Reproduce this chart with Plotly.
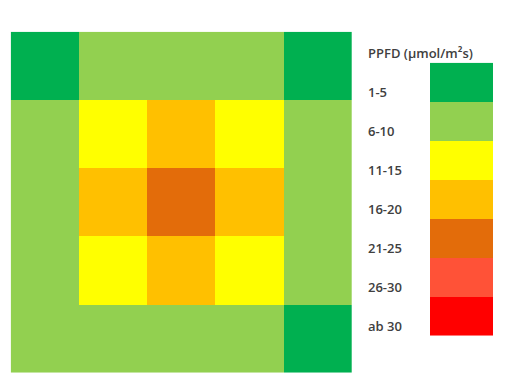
import plotly.graph_objects as go

# PPFD class legend
class_labels = ["1-5", "6-10", "11-15", "16-20", "21-25", "26-30", "ab 30"]
class_colors = ["#00B050", "#92D050", "#FFFF00", "#FFC000", "#E36C0A", "#FF5237", "#FF0000"]

# 5x5 grid of PPFD class indices (rows top to bottom)
grid_row1 = [0, 1, 1, 1, 0]
grid_row2 = [1, 2, 3, 2, 1]
grid_row3 = [1, 3, 4, 3, 1]
grid_row4 = [1, 2, 3, 2, 1]
grid_row5 = [1, 1, 1, 1, 0]
grid = [grid_row1, grid_row2, grid_row3, grid_row4, grid_row5]

n = len(class_colors)
colorscale = []
for i, c in enumerate(class_colors):
    colorscale.append([i / n, c])
    colorscale.append([(i + 1) / n, c])

# page body has an 8px margin; figure sized to fit the 520x390 window
OFF = 8
W, H = 520 - OFF, 390 - OFF


def px(x):
    return (x - OFF) / W


def py(y):
    return 1 - (y - OFF) / H


fig = go.Figure()
fig.add_trace(go.Heatmap(
    z=grid, zmin=-0.5, zmax=n - 0.5, colorscale=colorscale,
    showscale=False, hoverinfo="skip", xaxis="x", yaxis="y"))

fig.add_trace(go.Heatmap(
    z=[[i] for i in range(n)], zmin=-0.5, zmax=n - 0.5, colorscale=colorscale,
    showscale=False, hoverinfo="skip", xaxis="x2", yaxis="y2"))

font = dict(family="Open Sans", size=13, color="#404040", weight=600)
annotations = [dict(text="PPFD (µmol/m²s)", x=px(366), y=py(53),
                    xref="paper", yref="paper", xanchor="left", yanchor="middle",
                    showarrow=False, font=font)]
for i, lab in enumerate(class_labels):
    annotations.append(dict(text=lab, x=px(366), y=i + 0.25, xref="paper", yref="y2",
                            xanchor="left", yanchor="middle", showarrow=False, font=font))

ax_common = dict(showgrid=False, zeroline=False, showticklabels=False, ticks="", showline=False)
fig.update_layout(
    width=W, height=H, margin=dict(l=0, r=0, t=0, b=0),
    paper_bgcolor="white", plot_bgcolor="white",
    xaxis=dict(domain=[px(10.7), px(352)], range=[-0.5, 4.5], **ax_common),
    yaxis=dict(domain=[py(372.7), py(31.7)], range=[4.5, -0.5], **ax_common),
    xaxis2=dict(domain=[px(430), px(493.3)], range=[-0.5, 0.5], anchor="y2", **ax_common),
    yaxis2=dict(domain=[py(335.7), py(62.7)], range=[n - 0.5, -0.5], anchor="x2", **ax_common),
    annotations=annotations,
)

fig.write_html("out.html")
